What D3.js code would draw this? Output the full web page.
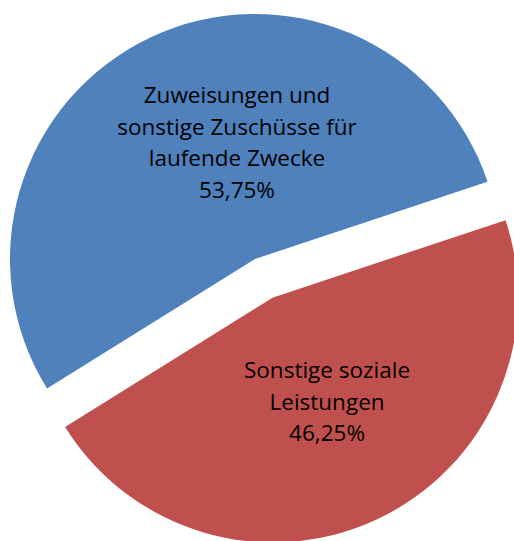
<!DOCTYPE html>
<html>
<head>
<meta charset="utf-8">
<script src="https://cdn.jsdelivr.net/npm/d3@7"></script>
<style>
  body { margin: 0; background: #fff; }
  svg { display: block; }
</style>
</head>
<body>
<svg width="514" height="541"></svg>
<script>
// data
const categories = ['Zuweisungen und sonstige Zuschüsse für laufende Zwecke', 'Sonstige soziale Leistungen'];
const labelLines = [
  ['Zuweisungen und', 'sonstige Zuschüsse für', 'laufende Zwecke'],
  ['Sonstige soziale', 'Leistungen']
];
const values = [53.75, 46.25];

// styling
const colors = ['#4F81BD', '#C0504D'];
const explode = [0, 42.5]; // px pulled out along slice middle
const labelNudge = [[32, -10], [4, -2]];

const W = 514, H = 541;
const center = { x: 255, y: 259 };
const radius = 245;
const fontSize = 22.5, lineH = 31.5, capH = 15.5;

const fmt = (v) => d3.format('.2f')(v).replace('.', ',') + '%';

const data = categories.map((c, i) => ({
  name: c,
  value: values[i],
  lines: labelLines[i].concat([fmt(values[i])]),
  color: colors[i],
  explode: explode[i],
  nudge: labelNudge[i]
}));

// first slice starts lower left, goes clockwise over the top
const start = (238.1 * Math.PI) / 180;
const pie = d3.pie().sort(null).value((d) => d.value)
  .startAngle(start).endAngle(start + 2 * Math.PI);

const arc = d3.arc().innerRadius(0).outerRadius(radius);
const labelArc = d3.arc().innerRadius(radius * 0.48).outerRadius(radius * 0.48);

const svg = d3.select('svg');
const g = svg.append('g')
  .attr('transform', 'translate(' + center.x + ',' + center.y + ')');

const slices = g.selectAll('g.slice')
  .data(pie(data))
  .enter()
  .append('g')
  .attr('class', 'slice')
  .attr('transform', (d) => {
    const mid = (d.startAngle + d.endAngle) / 2;
    const e = d.data.explode;
    return 'translate(' + Math.sin(mid) * e + ',' + -Math.cos(mid) * e + ')';
  });

slices.append('path')
  .attr('d', arc)
  .style('fill', (d) => d.data.color);

// labels, centred block of lines
slices.append('text')
  .attr('text-anchor', 'middle')
  .style('font-family', '"Open Sans", Lato, sans-serif')
  .style('font-size', fontSize + 'px')
  .style('fill', '#000')
  .each(function (d) {
    const c = labelArc.centroid(d);
    const cx = c[0] + d.data.nudge[0];
    const cy = c[1] + d.data.nudge[1];
    const n = d.data.lines.length;
    const b0 = cy - ((n - 1) * lineH - capH) / 2;
    d3.select(this).selectAll('tspan')
      .data(d.data.lines)
      .enter()
      .append('tspan')
      .attr('x', cx)
      .attr('y', (t, i) => b0 + i * lineH)
      .text((t) => t);
  });
</script>
</body>
</html>
